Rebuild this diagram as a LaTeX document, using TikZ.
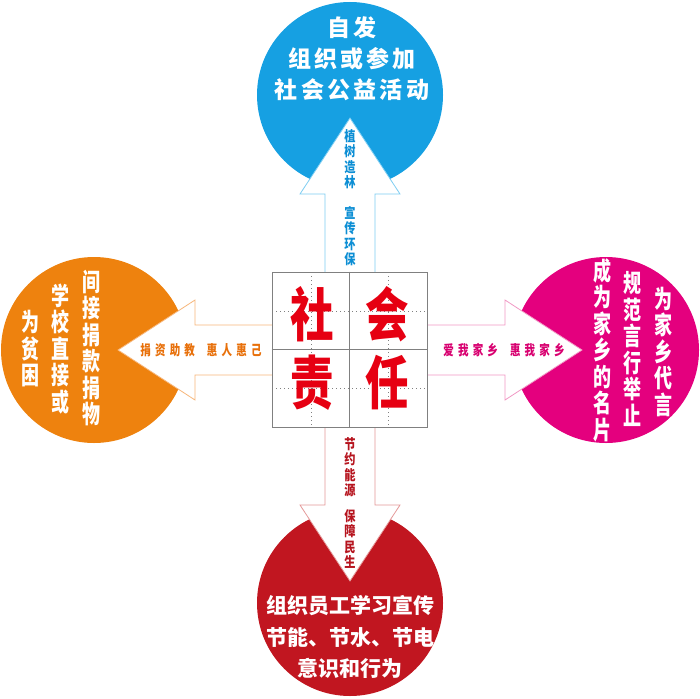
\documentclass[tikz,border=0pt]{standalone}
\usepackage{fontspec}
\newfontfamily\cjk{Noto Sans CJK SC}
\newfontfamily\cjkwide{Noto Sans CJK SC}[LetterSpace=14]
\newfontfamily\cjkarr{Noto Sans CJK SC}[LetterSpace=40]
\definecolor{skyblue}{RGB}{22,160,226}
\definecolor{skyline}{RGB}{125,205,242}
\definecolor{skytext}{RGB}{12,142,212}
\definecolor{orangedisc}{RGB}{238,130,14}
\definecolor{orangeline}{RGB}{247,182,122}
\definecolor{orangetext}{RGB}{232,112,10}
\definecolor{pinkdisc}{RGB}{228,0,126}
\definecolor{pinkline}{RGB}{241,152,196}
\definecolor{pinktext}{RGB}{216,0,112}
\definecolor{reddisc}{RGB}{193,22,32}
\definecolor{redline}{RGB}{228,152,152}
\definecolor{redtext}{RGB}{182,20,30}
\definecolor{hanzired}{RGB}{230,0,18}
\definecolor{boardgray}{RGB}{128,128,128}

\begin{document}
\begin{tikzpicture}[x=1pt,y=-1pt]
\tikzstyle{every node}+=[inner sep=0pt]
\tikzstyle{disc}=[circle,minimum size=186pt]
\tikzstyle{board}=[draw=boardgray,line width=1pt]
\tikzstyle{guide}=[boardgray,line width=0.7pt,dash pattern=on 1pt off 3pt]
\tikzstyle{head}=[fill=white,line width=0.8pt]
\tikzstyle{lines}=[text=white,align=center,font={\cjkwide\bfseries\fontsize{23}{31}\selectfont}]
\tikzstyle{lowlines}=[text=white,align=center,font={\cjk\bfseries\fontsize{21}{31.5}\selectfont}]
\tikzstyle{col}=[text=white,align=center,xscale=0.72,font={\cjk\bfseries\fontsize{25}{26.5}\selectfont}]
\tikzstyle{tag}=[align=center,xscale=0.8,font={\cjk\bfseries\fontsize{14}{15.5}\selectfont}]
\tikzstyle{side}=[xscale=0.75,font={\cjkarr\bfseries\fontsize{14}{16}\selectfont}]
\tikzstyle{hanzi}=[text=hanzired,xscale=0.75,font={\cjk\bfseries\fontsize{58}{60}\selectfont}]
\useasboundingbox (0,0) rectangle (700,698);
\node [disc,fill=skyblue] (ctop) at (350,95) {};
\node [disc,fill=orangedisc] (cleft) at (94,350) {};
\node [disc,fill=pinkdisc] (cright) at (606,350) {};
\node [disc,fill=reddisc] (cbot) at (350,603) {};
\draw [head,draw=skyline] (325,272) -- (325,194) -- (300,194) -- (350,118) -- (400,194) -- (375,194) -- (375,272);
\draw [head,draw=orangeline] (272,325) -- (195,325) -- (195,300) -- (118,350) -- (195,400) -- (195,375) -- (272,375);
\draw [head,draw=pinkline] (427,325) -- (505,325) -- (505,300) -- (582,350) -- (505,400) -- (505,375) -- (427,375);
\draw [head,draw=redline] (325,427) -- (325,505) -- (300,505) -- (350,581) -- (400,505) -- (375,505) -- (375,427);
\node [board,fill=white,minimum size=155pt] (sq) at (349.5,349.5) {};
\draw [guide] (311,272) -- (311,427);
\draw [guide] (388,272) -- (388,427);
\draw [guide] (272,311) -- (427,311);
\draw [guide] (272,388) -- (427,388);
\draw [board] (sq.north) -- (sq.south);
\draw [board] (sq.west) -- (sq.east);
\node [hanzi] (she) at (312,314) {社};
\node [hanzi] (hui) at (387,314) {会};
\node [hanzi] (ze) at (312,383) {责};
\node [hanzi] (ren) at (387,383) {任};
\node [lines] (ttop) at (352,59) {自发\\组织或参加\\社会公益活动};
\node [lowlines] (tbot) at (350,637) {组织员工学习宣传\\节能、节水、节电\\意识和行为};
\node [col] (l1) at (30,349) {为\\贫\\困};
\node [col] (l2) at (60,349) {学\\校\\直\\接\\或};
\node [col] (l3) at (91,348) {间\\接\\捐\\款\\捐\\物};
\node [col] (r1) at (602,350) {成\\为\\家\\乡\\的\\名\\片};
\node [col] (r2) at (632,349) {规\\范\\言\\行\\举\\止};
\node [col] (r3) at (663,352) {为\\家\\乡\\代\\言};
\node [tag,text=skytext] (u1) at (350,159) {植\\树\\造\\林};
\node [tag,text=skytext] (u2) at (350,236) {宣\\传\\环\\保};
\node [tag,text=redtext] (d1) at (350,467) {节\\约\\能\\源};
\node [tag,text=redtext] (d2) at (350,539) {保\\障\\民\\生};
\node [side,text=orangetext] (lt) at (201,350) {捐资助教\hspace{16pt}惠人惠己};
\node [side,text=pinktext] (rt) at (504,350) {爱我家乡\hspace{16pt}惠我家乡};
\end{tikzpicture}
\end{document}
